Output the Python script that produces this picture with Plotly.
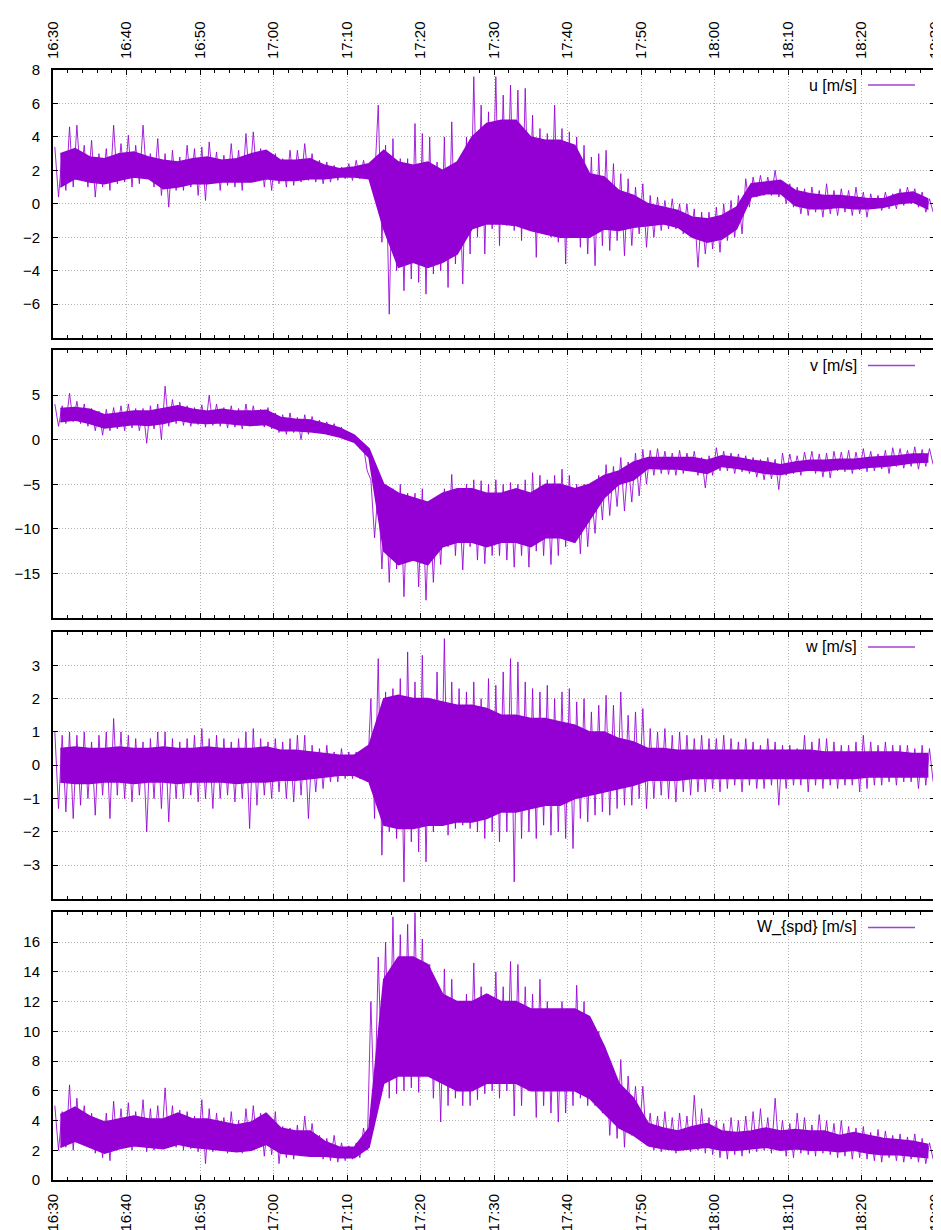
import plotly.graph_objects as go
import pandas as pd

# ---- data, 16:30 .. 18:30 ----
# per-minute upper / lower excursions (spike extremes)
u_hi = [3.4, 3.0, 4.6, 4.7, 3.5, 3.8, 3.0, 3.3, 4.7, 3.6,
        4.1, 3.5, 4.7, 3.0, 3.9, 3.0, 3.2, 2.8, 3.5, 3.3,
        3.4, 3.7, 3.1, 2.9, 3.6, 3.2, 4.2, 4.3, 3.3, 2.8,
        3.0, 2.7, 3.2, 3.2, 3.6, 3.0, 2.6, 2.5, 2.3, 2.2,
        2.4, 2.6, 2.6, 2.5, 5.9, 3.5, 3.9, 2.7, 2.7, 4.8,
        4.2, 4.0, 2.5, 4.0, 4.9, 2.5, 4.0, 7.6, 5.9, 5.5,
        7.6, 6.5, 7.1, 6.8, 6.9, 5.3, 4.5, 4.2, 5.9, 4.5,
        4.3, 4.0, 3.5, 2.8, 3.0, 3.2, 2.4, 1.8, 1.5, 1.0,
        1.2, 0.5, 0.4, 0.2, 0.3, 0.0, 0.0, -0.3, -0.5, -0.5,
        -0.2, 0.0, 0.2, 0.5, 1.5, 1.6, 1.7, 1.6, 2.0, 1.3,
        1.2, 1.0, 0.9, 1.0, 0.8, 1.2, 0.8, 0.9, 0.8, 1.0,
        0.7, 0.6, 0.5, 0.7, 0.6, 0.9, 1.0, 0.9, 0.7, 0.3]
u_lo = [0.4, 0.8, 1.0, 1.5, 1.0, 0.4, 1.0, 0.8, 1.2, 1.3,
        1.0, 1.2, 1.5, 1.0, 0.5, -0.2, 0.8, 0.8, 1.0, 0.5,
        0.2, 1.3, 0.8, 1.1, 1.0, 0.8, 1.3, 1.5, 1.0, 0.8,
        1.2, 1.0, 1.1, 1.3, 1.4, 1.3, 1.2, 1.3, 1.4, 1.5,
        1.4, 1.5, 1.6, 1.3, -2.3, -6.6, -4.0, -5.2, -4.5, -4.7,
        -5.4, -4.2, -4.0, -5.0, -3.6, -4.8, -3.0, -2.0, -3.0, -1.5,
        -2.5, -1.3, -1.6, -2.2, -1.3, -3.2, -1.8, -2.0, -2.3, -3.6,
        -2.0, -2.6, -3.0, -3.7, -2.5, -2.8, -2.2, -3.1, -2.5, -1.8,
        -2.6, -2.0, -1.6, -1.5, -1.5, -1.8, -2.0, -3.8, -3.0, -2.7,
        -2.9, -2.2, -2.0, -1.8, -0.2, 0.4, 0.5, 0.5, 0.4, 0.0,
        -0.2, -0.6, -0.7, -0.5, -0.8, -0.6, -0.7, -0.5, -0.7, -0.6,
        -0.8, -0.3, -0.4, -0.3, -0.3, -0.1, 0.0, -0.2, -0.5, -0.5]
# 2-minute dense-core band
u_core_hi = [3.0, 3.3, 2.8, 2.7, 3.0, 3.1, 2.8, 2.6, 2.5, 2.7,
             2.8, 2.6, 2.7, 3.0, 3.2, 2.6, 2.6, 2.7, 2.3, 2.1,
             2.2, 2.4, 3.2, 2.5, 2.3, 2.5, 2.0, 2.5, 4.0, 4.8,
             5.0, 5.0, 4.0, 3.8, 3.8, 3.5, 1.8, 1.6, 0.8, 0.5,
             0.0, -0.2, -0.4, -0.8, -0.9, -0.7, -0.2, 1.2, 1.3, 1.4,
             0.8, 0.6, 0.5, 0.5, 0.4, 0.3, 0.3, 0.6, 0.7, 0.3]
u_core_lo = [1.0, 1.5, 1.3, 1.2, 1.4, 1.6, 1.5, 0.9, 1.0, 1.2,
             1.2, 1.3, 1.3, 1.3, 1.5, 1.4, 1.4, 1.5, 1.5, 1.6,
             1.6, 1.5, -1.5, -3.8, -3.5, -3.8, -3.5, -3.0, -1.5, -1.2,
             -1.2, -1.3, -1.6, -1.8, -2.0, -2.0, -2.0, -1.5, -1.6, -1.4,
             -1.3, -1.2, -1.4, -2.0, -2.3, -2.1, -1.5, 0.4, 0.6, 0.6,
             -0.1, -0.3, -0.3, -0.2, -0.3, -0.3, -0.2, 0.0, 0.1, -0.3]

v_hi = [4.0, 3.8, 5.2, 4.3, 4.0, 3.5, 3.2, 3.4, 3.6, 3.8,
        4.0, 3.5, 3.5, 3.8, 4.0, 6.0, 4.5, 4.2, 3.8, 3.6,
        3.9, 5.0, 4.0, 3.6, 3.8, 3.5, 4.0, 3.8, 3.4, 3.6,
        3.0, 2.8, 3.0, 2.5, 2.8, 2.6, 2.2, 2.0, 1.8, 1.4,
        0.8, 0.2, -0.8, -4.5, -5.5, -6.0, -5.5, -5.0, -6.0, -6.0,
        -5.5, -7.0, -7.5, -5.5, -3.9, -6.0, -5.0, -4.5, -4.6, -5.0,
        -4.5, -5.0, -4.8, -5.0, -4.5, -3.7, -4.0, -4.5, -4.0, -3.3,
        -4.0, -5.0, -5.0, -6.0, -4.0, -2.8, -3.0, -2.0, -2.5, -1.5,
        -1.1, -1.2, -1.0, -1.3, -1.5, -1.2, -1.5, -1.3, -2.0, -1.8,
        -0.9, -1.3, -1.5, -1.6, -1.8, -2.0, -2.2, -2.0, -2.2, -1.5,
        -1.6, -1.8, -1.4, -1.3, -1.6, -1.5, -1.3, -1.4, -1.2, -1.4,
        -1.0, -1.3, -1.6, -1.2, -0.9, -1.0, -1.2, -0.8, -1.1, -1.0]
v_lo = [1.5, 1.8, 2.0, 1.8, 1.5, 1.0, 0.5, 1.0, 1.2, 1.0,
        1.3, 1.0, -0.4, 1.2, 0.0, 1.5, 1.8, 1.6, 1.5, 1.7,
        1.4, 1.6, 1.5, 1.3, 1.4, 1.2, 1.5, 1.6, 1.4, 1.2,
        0.8, 0.6, 0.8, 0.0, 0.6, 0.8, 0.7, 0.6, 0.4, 0.2,
        -0.2, -1.0, -3.5, -11.0, -14.5, -16.0, -14.5, -17.6, -13.0, -16.5,
        -18.0, -16.0, -14.0, -12.0, -13.0, -14.6, -12.0, -13.5, -13.9, -13.0,
        -13.0, -13.5, -14.3, -13.0, -14.3, -12.5, -13.0, -14.0, -13.0, -12.0,
        -11.0, -12.8, -12.0, -10.5, -9.0, -8.5, -7.5, -8.0, -7.0, -6.3,
        -5.0, -4.0, -3.8, -3.9, -4.0, -3.8, -3.5, -4.0, -5.4, -4.0,
        -3.5, -3.5, -3.8, -3.6, -3.8, -4.2, -4.5, -4.4, -5.6, -4.0,
        -3.8, -4.0, -3.5, -3.8, -4.2, -4.3, -3.5, -3.6, -3.8, -3.4,
        -3.6, -3.5, -3.3, -3.8, -3.0, -3.2, -3.0, -3.3, -3.0, -2.8]
v_core_hi = [3.5, 3.6, 3.4, 2.8, 3.0, 3.2, 3.2, 3.5, 3.8, 3.4,
             3.2, 3.4, 3.2, 3.2, 3.3, 2.5, 2.3, 2.2, 1.8, 1.3,
             0.5, -1.0, -5.0, -6.0, -6.5, -7.0, -6.0, -5.5, -5.5, -6.0,
             -6.0, -5.5, -6.0, -5.0, -5.0, -5.5, -5.0, -4.0, -3.5, -2.5,
             -2.0, -2.0, -2.0, -2.0, -2.3, -1.8, -2.0, -2.3, -2.5, -2.8,
             -2.5, -2.3, -2.3, -2.2, -2.2, -2.0, -1.9, -1.8, -1.6, -1.6]
v_core_lo = [2.0, 2.2, 1.8, 1.3, 1.5, 1.7, 1.6, 1.8, 2.2, 1.9,
             1.8, 1.9, 1.7, 1.6, 1.7, 1.0, 1.0, 0.9, 0.7, 0.3,
             -0.3, -2.0, -12.5, -14.0, -13.5, -14.0, -12.0, -11.5, -11.5, -12.0,
             -11.5, -11.5, -12.0, -11.0, -11.0, -11.5, -9.0, -6.5, -5.0, -4.5,
             -3.2, -3.3, -3.3, -3.5, -3.8, -3.0, -3.2, -3.5, -3.8, -3.9,
             -3.6, -3.4, -3.5, -3.3, -3.3, -3.1, -3.0, -2.8, -2.6, -2.5]

w_hi = [1.0, 0.9, 1.0, 0.9, 1.0, 0.7, 0.9, 1.0, 1.4, 1.0,
        0.9, 0.8, 0.7, 0.8, 1.0, 1.0, 0.8, 0.7, 0.8, 0.9,
        1.1, 0.8, 0.9, 0.8, 0.7, 0.8, 1.0, 1.1, 0.8, 0.7,
        0.8, 0.7, 0.8, 0.9, 0.9, 0.6, 0.5, 0.6, 0.4, 0.5,
        0.4, 0.4, 0.5, 2.0, 3.2, 2.2, 2.3, 2.6, 3.4, 2.5,
        3.3, 2.0, 2.8, 3.8, 2.5, 2.3, 2.2, 2.5, 2.0, 2.6,
        2.4, 2.8, 3.2, 3.1, 2.5, 2.3, 2.2, 2.4, 2.0, 2.2,
        2.3, 1.9, 2.0, 1.6, 1.8, 2.1, 1.8, 2.2, 1.5, 1.6,
        1.7, 1.1, 1.0, 1.1, 0.9, 1.0, 0.9, 0.8, 0.9, 0.8,
        0.8, 0.9, 0.8, 0.7, 0.8, 0.7, 0.6, 0.8, 0.7, 0.6,
        0.6, 0.5, 0.9, 0.7, 0.8, 0.8, 0.7, 0.6, 0.6, 0.7,
        0.9, 0.7, 0.6, 0.7, 0.6, 0.6, 0.6, 0.5, 0.6, 0.5]
w_lo = [-1.3, -1.4, -1.6, -1.2, -1.0, -1.5, -0.9, -1.6, -0.9, -1.0,
        -1.1, -0.9, -2.0, -1.0, -1.3, -1.7, -1.0, -1.0, -0.9, -1.1,
        -1.0, -1.3, -1.0, -0.9, -1.1, -1.0, -1.9, -1.2, -0.9, -1.0,
        -0.8, -1.0, -1.1, -0.9, -1.6, -0.8, -0.7, -0.5, -0.5, -0.4,
        -0.4, -0.4, -0.5, -1.6, -2.7, -2.0, -2.2, -3.5, -2.3, -2.6,
        -2.9, -2.0, -1.8, -2.1, -1.9, -1.8, -1.9, -2.0, -2.2, -2.0,
        -2.3, -2.0, -3.5, -2.2, -2.0, -2.2, -1.8, -2.1, -2.0, -2.2,
        -2.5, -1.6, -1.7, -1.5, -1.4, -1.5, -1.3, -1.2, -1.2, -1.0,
        -1.3, -1.0, -0.9, -1.0, -1.1, -0.8, -0.9, -0.8, -0.8, -0.7,
        -0.8, -0.7, -0.6, -0.8, -0.6, -0.7, -0.7, -0.6, -1.2, -0.7,
        -0.6, -0.6, -0.8, -0.6, -0.7, -0.6, -0.7, -0.6, -0.6, -0.8,
        -0.7, -0.6, -0.6, -0.5, -0.6, -0.5, -0.5, -0.7, -0.6, -0.5]
w_core_hi = [0.5, 0.55, 0.5, 0.5, 0.55, 0.5, 0.5, 0.55, 0.5, 0.5,
             0.55, 0.5, 0.5, 0.5, 0.55, 0.45, 0.45, 0.4, 0.35, 0.3,
             0.3, 0.6, 2.0, 2.1, 2.0, 2.0, 1.9, 1.8, 1.8, 1.7,
             1.5, 1.5, 1.4, 1.4, 1.3, 1.2, 1.0, 1.0, 0.8, 0.7,
             0.5, 0.5, 0.45, 0.45, 0.45, 0.45, 0.45, 0.45, 0.45, 0.45,
             0.45, 0.45, 0.4, 0.4, 0.4, 0.4, 0.4, 0.4, 0.35, 0.35]
w_core_lo = [-0.5, -0.55, -0.55, -0.5, -0.5, -0.55, -0.5, -0.5, -0.55, -0.5,
             -0.5, -0.5, -0.55, -0.5, -0.5, -0.45, -0.45, -0.4, -0.35, -0.3,
             -0.3, -0.5, -1.8, -1.9, -1.9, -1.8, -1.8, -1.7, -1.7, -1.6,
             -1.4, -1.4, -1.3, -1.2, -1.2, -1.0, -0.9, -0.8, -0.7, -0.6,
             -0.45, -0.45, -0.45, -0.4, -0.4, -0.4, -0.4, -0.4, -0.4, -0.4,
             -0.4, -0.4, -0.4, -0.4, -0.4, -0.35, -0.35, -0.35, -0.35, -0.35]

spd_hi = [5.0, 4.6, 6.4, 5.5, 5.0, 4.5, 3.8, 4.5, 5.3, 4.8,
          5.2, 4.6, 5.4, 4.8, 5.0, 6.2, 5.0, 4.7, 4.6, 4.3,
          5.4, 4.8, 4.5, 4.2, 4.6, 4.0, 4.8, 5.0, 4.5, 4.0,
          4.6, 3.6, 3.5, 3.7, 4.3, 3.8, 3.0, 2.8, 3.0, 2.5,
          2.3, 2.5, 3.5, 12.0, 15.0, 16.0, 17.7, 16.5, 17.2, 18.0,
          16.2, 14.5, 12.0, 14.2, 13.5, 12.0, 12.5, 14.6, 13.0, 12.5,
          14.0, 13.0, 14.7, 14.5, 13.0, 12.5, 13.5, 12.0, 11.5, 12.0,
          11.5, 13.1, 12.0, 10.5, 10.0, 8.5, 7.5, 8.1, 7.0, 6.3,
          6.3, 4.5, 4.3, 4.6, 4.2, 4.5, 4.3, 5.7, 4.8, 4.2,
          4.0, 3.8, 4.2, 4.0, 4.3, 4.6, 4.8, 4.2, 5.5, 4.0,
          3.8, 4.5, 4.2, 3.7, 4.4, 4.0, 3.8, 4.0, 3.6, 3.5,
          3.6, 3.2, 3.4, 3.3, 3.0, 3.1, 2.9, 3.1, 2.8, 2.5]
spd_lo = [2.0, 2.2, 2.0, 2.5, 2.3, 1.8, 1.5, 1.3, 2.0, 2.2,
          2.0, 2.3, 1.9, 2.0, 2.2, 2.5, 2.2, 2.0, 2.1, 1.9,
          1.1, 1.9, 2.0, 1.8, 2.0, 1.8, 2.2, 2.4, 1.6, 1.7,
          1.1, 1.5, 1.4, 1.6, 1.8, 1.8, 1.4, 1.3, 1.2, 1.3,
          1.4, 1.5, 2.0, 4.0, 7.0, 5.5, 5.8, 6.0, 6.2, 5.9,
          7.0, 5.5, 3.9, 5.0, 5.5, 5.0, 5.0, 5.4, 5.8, 6.0,
          5.5, 6.0, 4.3, 5.0, 6.0, 4.2, 5.0, 4.5, 3.9, 4.5,
          5.0, 5.5, 5.0, 5.0, 4.5, 3.0, 2.8, 2.2, 3.0, 3.0,
          2.5, 2.0, 1.9, 2.0, 1.8, 2.0, 1.9, 2.0, 1.8, 1.7,
          1.5, 1.4, 1.7, 1.6, 1.8, 1.9, 2.0, 1.8, 2.0, 1.6,
          1.5, 1.8, 1.7, 1.6, 1.8, 1.7, 1.5, 1.6, 1.4, 1.5,
          1.4, 1.3, 1.2, 1.5, 1.3, 1.2, 1.4, 1.2, 1.1, 1.4]
spd_core_hi = [4.4, 4.9, 4.3, 3.9, 4.1, 4.3, 4.1, 4.1, 4.5, 4.1,
               4.1, 3.9, 3.7, 3.9, 4.5, 3.5, 3.3, 3.3, 2.6, 2.2,
               2.2, 3.5, 13.5, 15.0, 15.0, 14.5, 12.5, 12.0, 12.0, 12.5,
               12.0, 12.0, 11.5, 11.5, 11.5, 11.5, 11.0, 9.0, 6.5, 5.5,
               3.8, 3.5, 3.3, 3.6, 3.8, 3.3, 3.2, 3.3, 3.5, 3.3,
               3.4, 3.3, 3.3, 3.0, 3.2, 3.0, 2.8, 2.7, 2.6, 2.4]
spd_core_lo = [2.2, 2.6, 2.2, 1.8, 2.1, 2.3, 2.2, 2.1, 2.4, 2.2,
               2.1, 2.0, 1.9, 2.0, 2.4, 1.8, 1.7, 1.6, 1.6, 1.5,
               1.5, 2.2, 6.5, 7.0, 7.0, 7.0, 6.5, 6.0, 6.0, 6.5,
               6.5, 6.5, 6.0, 6.0, 6.0, 6.0, 5.5, 4.5, 3.5, 3.0,
               2.3, 2.1, 2.0, 2.1, 2.2, 2.0, 2.0, 2.1, 2.2, 2.0,
               2.1, 2.0, 2.0, 1.9, 2.0, 1.8, 1.7, 1.7, 1.6, 1.5]

labels = ["u [m/s]", "v [m/s]", "w [m/s]", "W_{spd} [m/s]"]
y_ranges = [[-8, 8], [-20, 10], [-4, 4], [0, 18]]
y_ticks = [[-6, -4, -2, 0, 2, 4, 6, 8],
           [-15, -10, -5, 0, 5],
           [-3, -2, -1, 0, 1, 2, 3],
           [0, 2, 4, 6, 8, 10, 12, 14, 16]]

START = pd.Timestamp("2024-01-01 16:30:00")
END = pd.Timestamp("2024-01-01 18:30:00")
COLOR = "#9400D3"
FONT = "Liberation Sans, Arial, Helvetica, sans-serif"
GRID_DASH = "1px,2px"


def core_polygon(hi, lo):
    """Closed polygon of the 2-minute dense core: upper edge forward, lower edge back."""
    xs = [START + pd.Timedelta(minutes=2 * k + 1) for k in range(len(hi))]
    return xs + xs[::-1], list(hi) + list(lo)[::-1]


def zigzag(hi, lo):
    xs, ys = [], []
    for m, (h, l) in enumerate(zip(hi, lo)):
        xs.append(START + pd.Timedelta(seconds=m * 60 + 15))
        ys.append(h)
        xs.append(START + pd.Timedelta(seconds=m * 60 + 45))
        ys.append(l)
    return xs, ys


series = [(u_hi, u_lo, u_core_hi, u_core_lo),
          (v_hi, v_lo, v_core_hi, v_core_lo),
          (w_hi, w_lo, w_core_hi, w_core_lo),
          (spd_hi, spd_lo, spd_core_hi, spd_core_lo)]
domains = [[0.7589, 1.0], [0.50625, 0.74732], [0.25357, 0.49375], [0.0, 0.24107]]

fig = go.Figure()
for i, (hi, lo, chi, clo) in enumerate(series):
    sfx = "" if i == 0 else str(i + 1)
    cx, cy = core_polygon(chi, clo)
    fig.add_trace(go.Scatter(x=cx, y=cy, mode="lines", fill="toself",
                             fillcolor=COLOR,
                             line=dict(color=COLOR, width=1.5),
                             xaxis="x" + sfx, yaxis="y" + sfx,
                             showlegend=False, hoverinfo="skip"))
    zx, zy = zigzag(hi, lo)
    fig.add_trace(go.Scatter(x=zx, y=zy, mode="lines",
                             line=dict(color="rgba(148,0,211,0.85)", width=1),
                             xaxis="x" + sfx, yaxis="y" + sfx,
                             showlegend=False, name=labels[i]))

layout = dict(width=941, height=1230,
              margin=dict(l=45, r=6, t=62, b=48),
              paper_bgcolor="white", plot_bgcolor="white",
              font=dict(family=FONT, size=15, color="black"),
              showlegend=False)

for i in range(4):
    sfx = "" if i == 0 else str(i + 1)
    xa = dict(type="date", range=[START, END], domain=[0, 1],
              anchor="y" + sfx,
              tick0=START, dtick=600000, tickformat="%H:%M", tickangle=-90,
              ticks="inside", ticklen=5, tickwidth=1, tickcolor="black",
              showline=True, linecolor="black", linewidth=2, mirror="ticks",
              showgrid=True, gridcolor="#b4b4b4", griddash=GRID_DASH, gridwidth=1,
              minor=dict(ticks="inside", ticklen=3, dtick=120000, tick0=START,
                         tickcolor="black", showgrid=False),
              zeroline=False,
              tickfont=dict(size=15, family=FONT, color="black"),
              ticklabelstandoff=6)
    if i > 0:
        xa["matches"] = "x"
    if i == 0:
        xa["side"] = "top"
        xa["showticklabels"] = True
    elif i == 3:
        xa["side"] = "bottom"
        xa["showticklabels"] = True
    else:
        xa["showticklabels"] = False
    ya = dict(range=y_ranges[i], domain=domains[i], anchor="x" + sfx,
              tickmode="array", tickvals=y_ticks[i],
              ticks="inside", ticklen=5, tickwidth=1, tickcolor="black",
              showline=True, linecolor="black", linewidth=2, mirror="ticks",
              showgrid=True, gridcolor="#b4b4b4", griddash=GRID_DASH, gridwidth=1,
              zeroline=False,
              tickfont=dict(size=15, family=FONT, color="black"),
              ticklabelstandoff=8)
    layout["xaxis" + sfx] = xa
    layout["yaxis" + sfx] = ya

fig.update_layout(**layout)

for i in range(4):
    sfx = "" if i == 0 else str(i + 1)
    fig.add_annotation(text=labels[i], xref="x" + sfx + " domain", yref="y" + sfx + " domain",
                       x=1, y=1, xanchor="right", yanchor="middle",
                       xshift=-76, yshift=-15, showarrow=False,
                       font=dict(size=16, family=FONT, color="black"))
    fig.add_shape(type="line", xref="x" + sfx + " domain", yref="y" + sfx + " domain",
                  xsizemode="pixel", ysizemode="pixel", xanchor=1, yanchor=1,
                  x0=-67, x1=-20, y0=-15, y1=-15,
                  line=dict(color="#a040d8", width=1.5))

fig.write_html("out.html")
